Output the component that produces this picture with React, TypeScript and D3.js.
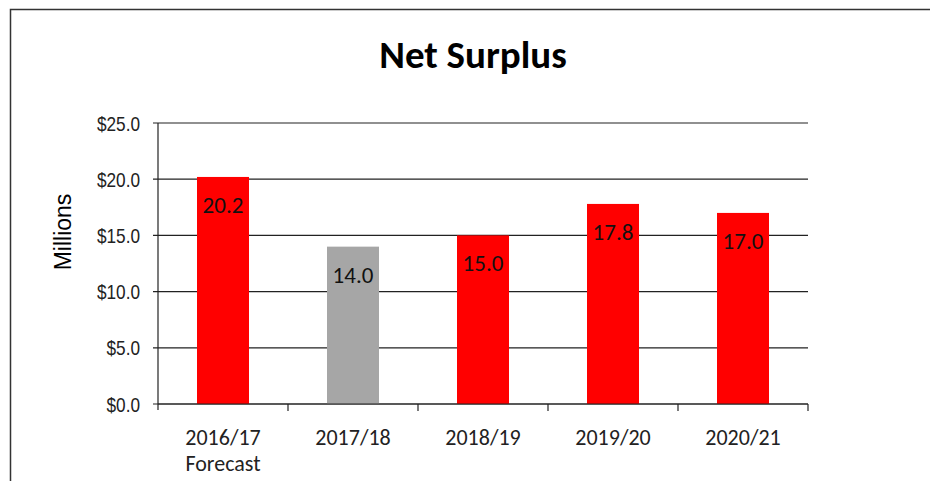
import React from 'react';
import * as d3 from 'd3';

const years = ['2016/17', '2017/18', '2018/19', '2019/20', '2020/21'];
const subLabels = ['Forecast', '', '', '', ''];
const surplus = [20.2, 14.0, 15.0, 17.8, 17.0];
const barColors = ['#ff0000', '#a6a6a6', '#ff0000', '#ff0000', '#ff0000'];
const yTicks = [0, 5, 10, 15, 20, 25];

const W = 930;
const H = 481;
const margin = { top: 123, right: 122, bottom: 77, left: 158 };

const App = () => {
  const innerW = W - margin.left - margin.right;
  const innerH = H - margin.top - margin.bottom;

  const x = d3.scaleBand().domain(years).range([0, innerW]).paddingInner(0.6).paddingOuter(0.3);
  const band = d3.scaleBand().domain(years).range([0, innerW]);
  const y = d3.scaleLinear().domain([0, 25]).range([innerH, 0]);

  const labelFont = 'Calibri, Carlito, Lato, "Open Sans", sans-serif';
  const tickFont = '"Liberation Sans", Arial, sans-serif';

  return (
    <div>
      <style>{`body{margin:0}`}</style>
      <svg width={W} height={H} style={{ display: 'block', background: '#fff' }}>
        <rect x={10.5} y={9.5} width={930} height={490} fill="none" stroke="#333" strokeWidth={1.5} />
        <text x={473} y={68} textAnchor="middle" fontFamily={labelFont} fontWeight="bold" fontSize={39} fill="#000">
          Net Surplus
        </text>
        <text
          transform="translate(71,232) rotate(-90)"
          textAnchor="middle"
          fontFamily={tickFont}
          fontSize={23}
          fill="#000"
        >
          Millions
        </text>
        <g transform={`translate(${margin.left},${margin.top})`}>
          {yTicks.map((t) => (
            <g key={t}>
              <line x1={-5} x2={innerW} y1={y(t)} y2={y(t)} stroke="#222" strokeWidth={1.2} />
              <text
                transform={`translate(-18,${y(t)}) scale(0.82,1)`}
                dy="0.36em"
                textAnchor="end"
                fontFamily={tickFont}
                fontSize={21}
                fill="#222"
              >
                {`$${t.toFixed(1)}`}
              </text>
            </g>
          ))}
          <line x1={0} x2={0} y1={0} y2={innerH + 6} stroke="#222" strokeWidth={1.2} />
          {years.map((yr, i) => (
            <rect
              key={yr}
              x={x(yr)}
              y={y(surplus[i])}
              width={x.bandwidth()}
              height={innerH - y(surplus[i])}
              fill={barColors[i]}
            />
          ))}
          {years.map((yr, i) => (
            <text
              key={yr + 'l'}
              x={(x(yr) as number) + x.bandwidth() / 2}
              y={y(surplus[i]) + 28}
              dy="0.35em"
              textAnchor="middle"
              fontFamily={labelFont}
              fontSize={23}
              fill="#111"
            >
              {surplus[i].toFixed(1)}
            </text>
          ))}
          <line x1={0} x2={innerW} y1={innerH} y2={innerH} stroke="#222" strokeWidth={1.2} />
          {years.map((yr) => (
            <line
              key={yr + 't'}
              x1={(band(yr) as number) + band.bandwidth()}
              x2={(band(yr) as number) + band.bandwidth()}
              y1={innerH}
              y2={innerH + 7}
              stroke="#222"
              strokeWidth={1.2}
            />
          ))}
          {years.map((yr, i) => (
            <text
              key={yr + 'x'}
              x={(band(yr) as number) + band.bandwidth() / 2}
              y={innerH + 41}
              textAnchor="middle"
              fontFamily={labelFont}
              fontSize={22}
              fill="#222"
            >
              <tspan x={(band(yr) as number) + band.bandwidth() / 2}>{yr}</tspan>
              {subLabels[i] && (
                <tspan x={(band(yr) as number) + band.bandwidth() / 2} dy={26}>
                  {subLabels[i]}
                </tspan>
              )}
            </text>
          ))}
        </g>
      </svg>
    </div>
  );
};

export default App;
